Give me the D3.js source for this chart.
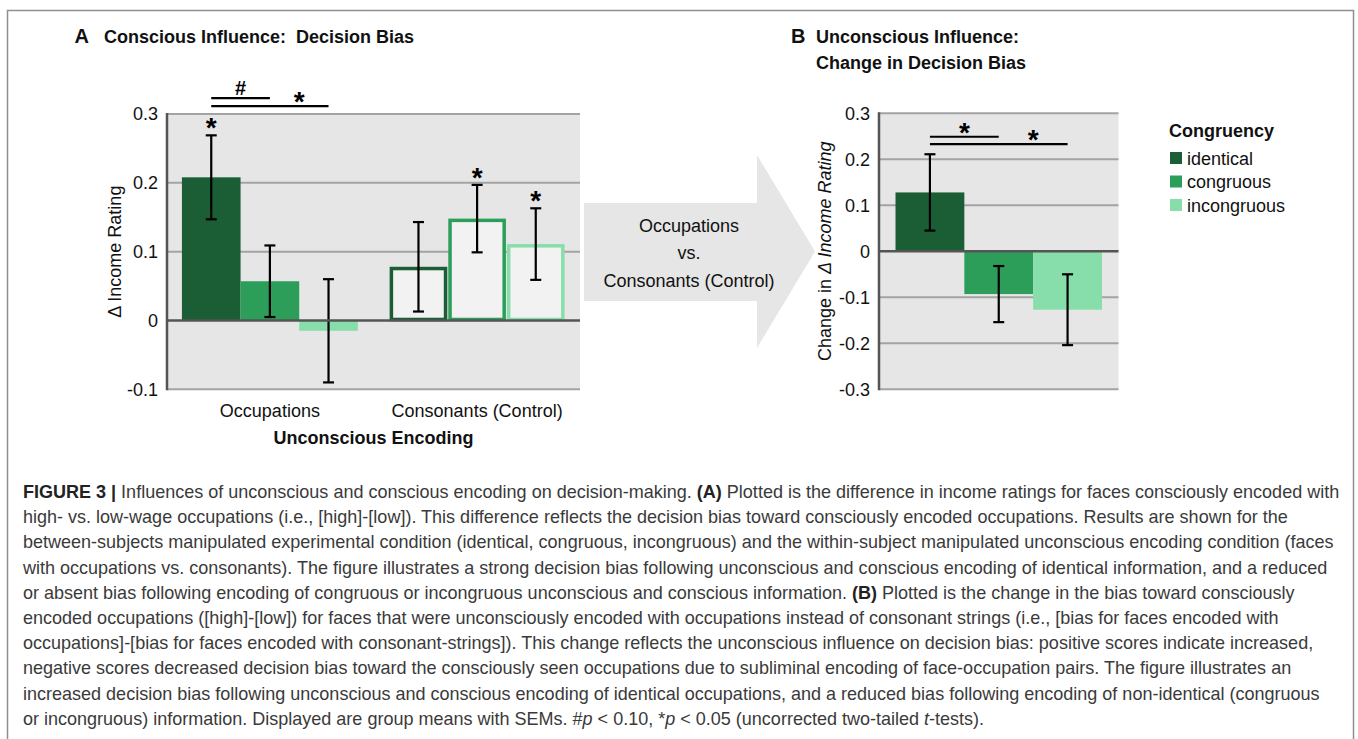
<!DOCTYPE html>
<html>
<head>
<meta charset="utf-8">
<script src="https://cdn.jsdelivr.net/npm/d3@7"></script>
<style>
  body { margin: 0; background: #fff; }
  svg { display: block; }
</style>
</head>
<body>
<svg id="fig" width="1358" height="739"></svg>
<script>
// ---- data ----
var conditions = ["identical", "congruous", "incongruous"];
var conditionColors = ["#1b5e36", "#2d9e5a", "#88deaa"];
var encodings = ["Occupations", "Consonants (Control)"];

// panel A: decision bias (delta income rating)
var occupationsMean = [0.208, 0.057, -0.015];
var occupationsSem = [0.061, 0.052, 0.075];
var occupationsSig = ["*", "", ""];
var consonantsMean = [0.078, 0.148, 0.111];
var consonantsSem = [0.065, 0.049, 0.052];
var consonantsSig = ["", "*", "*"];

// panel B: change in decision bias
var changeMean = [0.128, -0.093, -0.127];
var changeSem = [0.083, 0.061, 0.077];

var ticksA = [-0.1, 0, 0.1, 0.2, 0.3];
var ticksB = [-0.3, -0.2, -0.1, 0, 0.1, 0.2, 0.3];

// significance brackets between occupation bars
var bracketsA = [
  { from: "identical", to: "congruous", level: 0.323, label: "#" },
  { from: "identical", to: "incongruous", level: 0.3115, label: "*" }
];
var bracketsB = [
  { from: "identical", to: "congruous", level: 0.249, label: "*" },
  { from: "identical", to: "incongruous", level: 0.233, label: "*" }
];

var captionLines = [
  [["FIGURE 3 | ", "b"], ["Influences of unconscious and conscious encoding on decision-making. "], ["(A)", "b"], [" Plotted is the difference in income ratings for faces consciously encoded with"]],
  [["high- vs. low-wage occupations (i.e., [high]-[low]). This difference reflects the decision bias toward consciously encoded occupations. Results are shown for the"]],
  [["between-subjects manipulated experimental condition (identical, congruous, incongruous) and the within-subject manipulated unconscious encoding condition (faces"]],
  [["with occupations vs. consonants). The figure illustrates a strong decision bias following unconscious and conscious encoding of identical information, and a reduced"]],
  [["or absent bias following encoding of congruous or incongruous unconscious and conscious information. "], ["(B)", "b"], [" Plotted is the change in the bias toward consciously"]],
  [["encoded occupations ([high]-[low]) for faces that were unconsciously encoded with occupations instead of consonant strings (i.e., [bias for faces encoded with"]],
  [["occupations]-[bias for faces encoded with consonant-strings]). This change reflects the unconscious influence on decision bias: positive scores indicate increased,"]],
  [["negative scores decreased decision bias toward the consciously seen occupations due to subliminal encoding of face-occupation pairs. The figure illustrates an"]],
  [["increased decision bias following unconscious and conscious encoding of identical occupations, and a reduced bias following encoding of non-identical (congruous"]],
  [["or incongruous) information. Displayed are group means with SEMs. #"], ["p", "i"], [" < 0.10, *"], ["p", "i"], [" < 0.05 (uncorrected two-tailed "], ["t", "i"], ["-tests)."]]
];

var FONT = "'Liberation Sans', Arial, Helvetica, sans-serif";

window.onload = function() {
    makeFigure();
};

function fmt(d) {
    return d === 0 ? "0" : d.toFixed(1);
}

function makeFigure() {
    var svg = d3.select("#fig").attr("font-family", FONT);

    svg.append("rect").attr("width", 1358).attr("height", 739).attr("fill", "#fff");

    // outer frame of the figure (bottom edge is cut off)
    svg.append("rect")
        .attr("x", 7.5).attr("y", 10.5)
        .attr("width", 1346).attr("height", 760)
        .attr("fill", "none").attr("stroke", "#8f8f8f").attr("stroke-width", 1.5);

    // ---------- panel A ----------
    var leftA = 167, rightA = 580;
    var yA = d3.scaleLinear().domain([-0.1, 0.3]).range([389.3, 114]);
    var x0 = d3.scaleBand().domain(encodings).range([leftA, rightA])
        .paddingInner(0.151).paddingOuter(0.072);
    var x1 = d3.scaleBand().domain(conditions).range([0, x0.bandwidth()]);

    plotBox(svg, yA, ticksA, leftA, rightA);

    var rowsA = [];
    conditions.forEach(function(c, i) {
        rowsA.push({ enc: encodings[0], cond: c, i: i, mean: occupationsMean[i], sem: occupationsSem[i], sig: occupationsSig[i] });
    });
    conditions.forEach(function(c, i) {
        rowsA.push({ enc: encodings[1], cond: c, i: i, mean: consonantsMean[i], sem: consonantsSem[i], sig: consonantsSig[i] });
    });

    var gA = svg.append("g");

    // filled bars for occupations
    gA.selectAll(".barOcc")
        .data(rowsA.filter(function(d) { return d.enc === encodings[0]; }))
        .join("rect")
        .attr("x", function(d) { return x0(d.enc) + x1(d.cond); })
        .attr("width", x1.bandwidth())
        .attr("y", function(d) { return yA(Math.max(0, d.mean)); })
        .attr("height", function(d) { return Math.abs(yA(d.mean) - yA(0)); })
        .attr("fill", function(d) { return conditionColors[d.i]; });

    // outlined bars for consonants
    var sw = 3.5;
    gA.selectAll(".barCon")
        .data(rowsA.filter(function(d) { return d.enc === encodings[1]; }))
        .join("rect")
        .attr("x", function(d) { return x0(d.enc) + x1(d.cond) + 0.5 + sw / 2; })
        .attr("width", x1.bandwidth() - 1 - sw)
        .attr("y", function(d) { return yA(d.mean) + sw / 2; })
        .attr("height", function(d) { return yA(0) - yA(d.mean) - sw / 2 - 1; })
        .attr("fill", "#f2f2f2")
        .attr("stroke", function(d) { return conditionColors[d.i]; })
        .attr("stroke-width", sw);

    axisLines(svg, yA, leftA, rightA);

    var cxA = function(d) { return x0(d.enc) + x1(d.cond) + x1.bandwidth() / 2; };
    errorBars(gA, rowsA, cxA, yA);
    barStars(gA, rowsA, cxA, yA);

    var occCenter = function(c) { return x0(encodings[0]) + x1(c) + x1.bandwidth() / 2; };
    brackets(svg, bracketsA, occCenter, yA);

    // tick/axis labels panel A
    svg.append("text")
        .attr("transform", "translate(121," + (yA(0.1)) + ") rotate(-90)")
        .attr("text-anchor", "middle")
        .attr("font-size", 18).attr("fill", "#111")
        .text("\u0394 Income Rating");

    svg.append("g").selectAll("text")
        .data(encodings)
        .join("text")
        .attr("x", function(d) { return x0(d) + x0.bandwidth() / 2; })
        .attr("y", 416.5)
        .attr("text-anchor", "middle")
        .attr("font-size", 18).attr("fill", "#111")
        .text(function(d) { return d; });

    svg.append("text")
        .attr("x", (leftA + rightA) / 2).attr("y", 444)
        .attr("text-anchor", "middle")
        .attr("font-size", 18).attr("font-weight", "bold").attr("fill", "#111")
        .text("Unconscious Encoding");

    svg.append("text").attr("x", 74.5).attr("y", 43)
        .attr("font-size", 20).attr("font-weight", "bold").attr("fill", "#111").text("A");
    svg.append("text").attr("x", 104).attr("y", 42.5)
        .attr("font-size", 18).attr("font-weight", "bold").attr("fill", "#111")
        .attr("xml:space", "preserve")
        .text("Conscious Influence:  Decision Bias");

    // ---------- arrow between panels ----------
    var ax0 = 584, ax1 = 757, tipX = 815, shaftTop = 203, shaftBot = 301, headTop = 155, headBot = 348;
    var midY = (headTop + headBot) / 2;
    svg.append("path")
        .attr("d", "M" + ax0 + "," + shaftTop + "H" + ax1 + "V" + headTop + "L" + tipX + "," + midY +
            "L" + ax1 + "," + headBot + "V" + shaftBot + "H" + ax0 + "Z")
        .attr("fill", "#e6e6e6");
    svg.append("g").selectAll("text")
        .data(["Occupations", "vs.", "Consonants (Control)"])
        .join("text")
        .attr("x", 689)
        .attr("y", function(d, i) { return 231.5 + i * 27.5; })
        .attr("text-anchor", "middle")
        .attr("font-size", 18).attr("fill", "#111")
        .text(function(d) { return d; });

    // ---------- panel B ----------
    var leftB = 879, rightB = 1118.5;
    var yB = d3.scaleLinear().domain([-0.3, 0.3]).range([389.3, 113.3]);
    var xB = d3.scaleBand().domain(conditions).range([leftB, rightB])
        .paddingInner(0).paddingOuter(0.24);

    plotBox(svg, yB, ticksB, leftB, rightB);

    var rowsB = conditions.map(function(c, i) {
        return { cond: c, i: i, mean: changeMean[i], sem: changeSem[i], sig: "" };
    });

    var gB = svg.append("g");
    gB.selectAll("rect")
        .data(rowsB)
        .join("rect")
        .attr("x", function(d) { return xB(d.cond); })
        .attr("width", xB.bandwidth())
        .attr("y", function(d) { return yB(Math.max(0, d.mean)); })
        .attr("height", function(d) { return Math.abs(yB(d.mean) - yB(0)); })
        .attr("fill", function(d) { return conditionColors[d.i]; });

    axisLines(svg, yB, leftB, rightB);

    var cxB = function(d) { return xB(d.cond) + xB.bandwidth() / 2; };
    errorBars(gB, rowsB, cxB, yB);
    brackets(svg, bracketsB, function(c) { return xB(c) + xB.bandwidth() / 2; }, yB);

    var yLabB = svg.append("text")
        .attr("transform", "translate(831," + yB(0) + ") rotate(-90)")
        .attr("text-anchor", "middle")
        .attr("font-size", 18).attr("fill", "#111");
    yLabB.append("tspan").text("Change in ");
    yLabB.append("tspan").attr("font-style", "italic").text("\u0394 Income Rating");

    svg.append("text").attr("x", 791).attr("y", 43)
        .attr("font-size", 20).attr("font-weight", "bold").attr("fill", "#111").text("B");
    svg.append("g").selectAll("text")
        .data(["Unconscious Influence:", "Change in Decision Bias"])
        .join("text")
        .attr("x", 816)
        .attr("y", function(d, i) { return 42.5 + i * 26.5; })
        .attr("font-size", 18).attr("font-weight", "bold").attr("fill", "#111")
        .text(function(d) { return d; });

    // legend
    var lg = svg.append("g").attr("transform", "translate(1170,0)");
    lg.append("text").attr("x", -1).attr("y", 136.5)
        .attr("font-size", 18).attr("font-weight", "bold").attr("fill", "#111")
        .text("Congruency");
    var items = lg.selectAll(".item").data(conditions).join("g")
        .attr("transform", function(d, i) { return "translate(0," + (152 + i * 23.5) + ")"; });
    items.append("rect").attr("width", 12).attr("height", 12)
        .attr("fill", function(d, i) { return conditionColors[i]; });
    items.append("text").attr("x", 17).attr("y", 12.5)
        .attr("font-size", 18).attr("fill", "#111")
        .text(function(d) { return d; });

    // ---------- caption ----------
    var cap = svg.append("g");
    var lines = cap.selectAll("text")
        .data(captionLines)
        .join("text")
        .attr("x", 0)
        .attr("y", function(d, i) { return 498 + i * 25.2; })
        .attr("font-size", 18)
        .attr("fill", "#3a3a3a")
        .attr("xml:space", "preserve");
    lines.selectAll("tspan")
        .data(function(d) { return d; })
        .join("tspan")
        .attr("font-weight", function(s) { return s[1] === "b" ? "bold" : null; })
        .attr("fill", function(s) { return s[1] === "b" ? "#222" : null; })
        .attr("font-style", function(s) { return s[1] === "i" ? "italic" : null; })
        .text(function(s) { return s[0]; });

    // fit the caption width to the original line length
    var w1 = lines.node().getComputedTextLength();
    var sx = 1317 / w1;
    cap.attr("transform", "translate(23,0) scale(" + sx + ",1)");
}

function plotBox(svg, y, ticks, left, right) {
    var top = y(d3.max(ticks)), bottom = y(d3.min(ticks));
    svg.append("rect")
        .attr("x", left).attr("y", top)
        .attr("width", right - left).attr("height", bottom - top)
        .attr("fill", "#e6e6e6");

    svg.append("g").selectAll("line")
        .data(ticks.filter(function(t) { return t !== 0; }))
        .join("line")
        .attr("x1", left).attr("x2", right)
        .attr("y1", function(d) { return y(d); })
        .attr("y2", function(d) { return y(d); })
        .attr("stroke", "#a3a3a3").attr("stroke-width", 2);

    var ax = svg.append("g")
        .attr("transform", "translate(" + left + ",0)")
        .call(d3.axisLeft(y).tickValues(ticks).tickSize(0).tickPadding(9).tickFormat(fmt));
    ax.select(".domain").remove();
    ax.attr("font-family", FONT).attr("font-size", 18);
    ax.selectAll("text").attr("fill", "#111");
}

function axisLines(svg, y, left, right) {
    svg.append("line")
        .attr("x1", left).attr("x2", right)
        .attr("y1", y(0)).attr("y2", y(0))
        .attr("stroke", "#555").attr("stroke-width", 2.5);
    svg.append("line")
        .attr("x1", left).attr("x2", left)
        .attr("y1", y.range()[1] - 1).attr("y2", y.range()[0] + 1)
        .attr("stroke", "#555").attr("stroke-width", 2.5);
}

function errorBars(g, rows, cx, y) {
    var cap = 5.5;
    var eb = g.append("g").selectAll("g")
        .data(rows)
        .join("g")
        .attr("stroke", "#000").attr("stroke-width", 2.2);
    eb.append("line")
        .attr("x1", cx).attr("x2", cx)
        .attr("y1", function(d) { return y(d.mean + d.sem); })
        .attr("y2", function(d) { return y(d.mean - d.sem); });
    eb.append("line")
        .attr("x1", function(d) { return cx(d) - cap; })
        .attr("x2", function(d) { return cx(d) + cap; })
        .attr("y1", function(d) { return y(d.mean + d.sem); })
        .attr("y2", function(d) { return y(d.mean + d.sem); });
    eb.append("line")
        .attr("x1", function(d) { return cx(d) - cap; })
        .attr("x2", function(d) { return cx(d) + cap; })
        .attr("y1", function(d) { return y(d.mean - d.sem); })
        .attr("y2", function(d) { return y(d.mean - d.sem); });
}

function barStars(g, rows, cx, y) {
    var size = 28;
    g.append("g").selectAll("text")
        .data(rows.filter(function(d) { return d.sig; }))
        .join("text")
        .attr("x", cx)
        .attr("y", function(d) { return y(d.mean + d.sem) - 13.5 + size * 0.55; })
        .attr("text-anchor", "middle")
        .attr("font-size", size).attr("font-weight", "bold").attr("fill", "#000")
        .text(function(d) { return d.sig; });
}

function brackets(svg, list, center, y) {
    var g = svg.append("g");
    list.forEach(function(b, k) {
        var xa = center(b.from), xb = center(b.to);
        g.append("line")
            .attr("x1", xa).attr("x2", xb)
            .attr("y1", y(b.level)).attr("y2", y(b.level))
            .attr("stroke", "#000").attr("stroke-width", 2.2);
        // label sits over the part not covered by the shorter bracket
        var startX = k === 0 ? xa : center(list[k - 1].to);
        var isStar = b.label === "*";
        var size = isStar ? 28 : 20;
        g.append("text")
            .attr("x", (startX + xb) / 2)
            .attr("y", y(b.level) - 10.5 + (isStar ? size * 0.55 : size * 0.35))
            .attr("text-anchor", "middle")
            .attr("font-size", size).attr("font-weight", "bold").attr("fill", "#000")
            .text(b.label);
    });
}
</script>
</body>
</html>
